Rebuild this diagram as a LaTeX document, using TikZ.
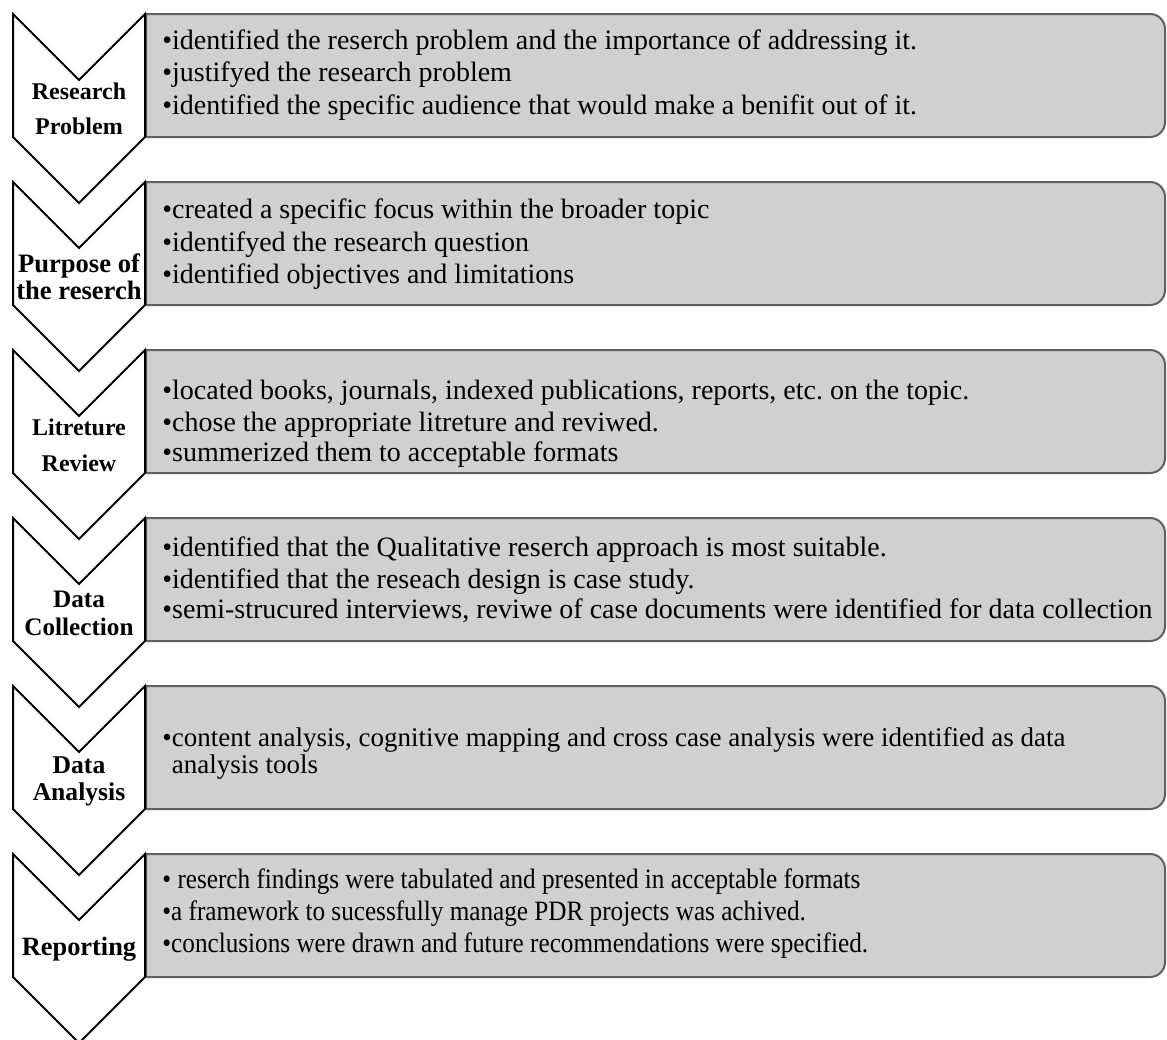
\documentclass[tikz,border=0pt]{standalone}
\usepackage{fontspec}
\setmainfont{Liberation Serif}
\newfontfamily\narrowserif[FakeStretch=0.9]{Liberation Serif}
\definecolor{panelfill}{RGB}{208,208,208}
\definecolor{panelline}{RGB}{96,96,96}
\begin{document}
\begin{tikzpicture}[x=0.5pt,y=-0.5pt,
  chevron/.style={draw=black, line width=1pt, fill=white, line join=miter},
  panel/.style={draw=panelline, line width=1pt, fill=panelfill},
  steplabel/.style n args={2}{font=\fontsize{#1}{#2}\selectfont\bfseries, align=center, inner sep=0pt},
  itemtext/.style={font=\fontsize{14}{16}\selectfont, anchor=base west, inner sep=0pt},
  smalltext/.style={itemtext, font=\fontsize{13.5}{16}\selectfont},
  narrowtext/.style={itemtext, font=\fontsize{14}{16}\narrowserif},
]
\useasboundingbox (0,0) rectangle (1167,1039);

% grey panels with rounded right-hand corners, then the chevrons over them
\foreach \t in {14,182,350,518,686,854} {
  \path[panel] (146,\t) -- (1150,\t)
     .. controls (1158.3,\t) and (1165,\t+6.7) .. (1165,\t+15)
     -- (1165,\t+108)
     .. controls (1165,\t+116.3) and (1158.3,\t+123) .. (1150,\t+123)
     -- (146,\t+123) -- cycle;
  \draw[chevron] (13,\t) -- (79,\t+66) -- (145,\t) -- (145,\t+123)
     -- (79,\t+189) -- (13,\t+123) -- cycle;
}

% step labels
\node[steplabel={12}{17.5}] (lab1) at (79,109) {Research\\Problem};
\node[steplabel={13.3}{13.5}] (lab2) at (79,277) {Purpose of\\the reserch};
\node[steplabel={12}{18}] (lab3) at (79,445) {Litreture\\Review};
\node[steplabel={12.6}{14}] (lab4) at (79,613) {Data\\Collection};
\node[steplabel={12.8}{13.5}] (lab5) at (79,781) {Data\\Analysis};
\node[steplabel={13.2}{14}] (lab6) at (79,949) {Reporting};

% panel 1
\node[itemtext] (p1a) at (162,49) {•identified the reserch problem and the importance of addressing it.};
\node[itemtext] (p1b) at (162,81) {•justifyed the research problem};
\node[itemtext] (p1c) at (162,114) {•identified the specific audience that would make a benifit out of it.};
% panel 2
\node[itemtext] (p2a) at (162,218) {•created a specific focus within the broader topic};
\node[itemtext] (p2b) at (162,251) {•identifyed the research question};
\node[itemtext] (p2c) at (162,283) {•identified objectives and limitations};
% panel 3
\node[itemtext] (p3a) at (162,399) {•located books, journals, indexed publications, reports, etc.\ on the topic.};
\node[itemtext] (p3b) at (162,431) {•chose the appropriate litreture and reviwed.};
\node[itemtext] (p3c) at (162,461) {•summerized them to acceptable formats};
% panel 4
\node[itemtext] (p4a) at (162,556) {•identified that the Qualitative reserch approach is most suitable.};
\node[itemtext] (p4b) at (162,588) {•identified that the reseach design is case study.};
\node[itemtext] (p4c) at (162,618) {•semi-strucured interviews, reviwe of case documents were identified for data collection};
% panel 5 (one wrapped item)
\node[smalltext] (p5a) at (162,746) {•content analysis, cognitive mapping and cross case analysis were identified as data};
\node[smalltext] (p5b) at (162,773) {\hphantom{•}analysis tools};
% panel 6
\node[narrowtext] (p6a) at (162,888) {• reserch findings were tabulated and presented in acceptable formats};
\node[narrowtext] (p6b) at (162,920) {•a framework to sucessfully manage PDR projects was achived.};
\node[narrowtext] (p6c) at (162,952) {•conclusions were drawn and future recommendations were specified.};
\end{tikzpicture}
\end{document}
